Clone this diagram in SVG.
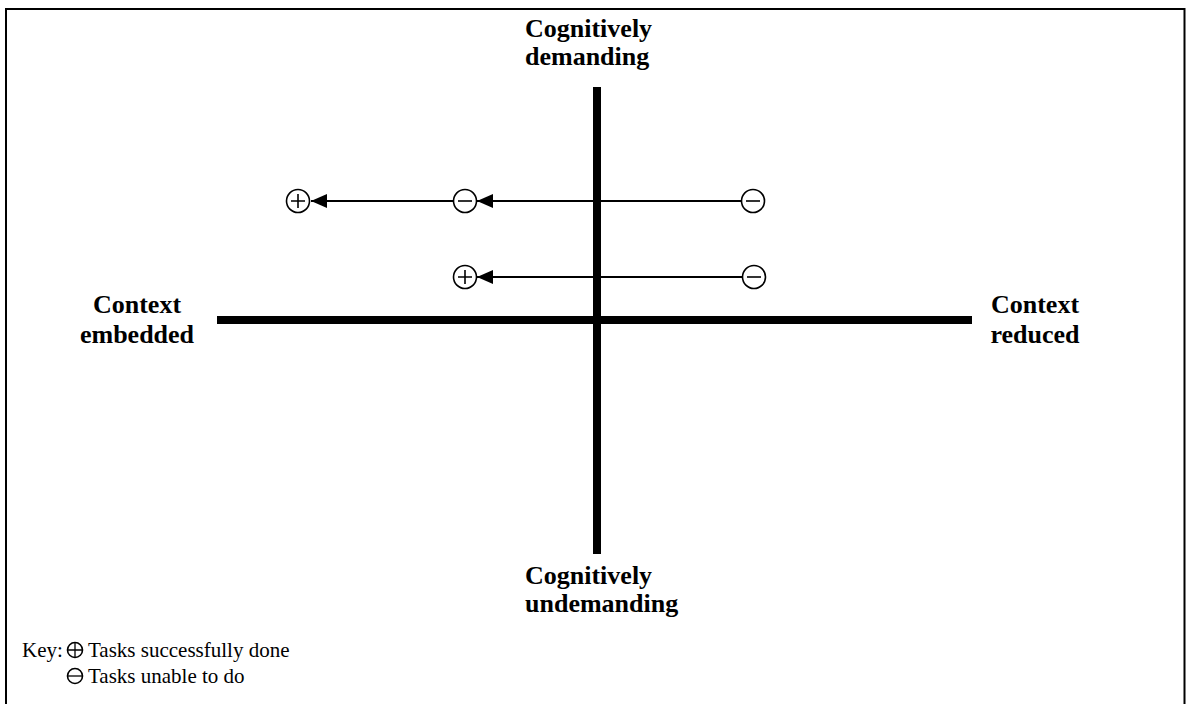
<svg xmlns="http://www.w3.org/2000/svg" width="1186" height="704" viewBox="0 0 1186 704">
<style>
.lbl{font-family:"Liberation Serif","Times New Roman",serif;font-weight:bold;font-size:26px;fill:#000}
.key{font-family:"Liberation Serif","Times New Roman",serif;font-size:21px;fill:#000}
.sym{fill:#fff;stroke:#000;stroke-width:1.6}
.axis{stroke:#000;stroke-width:8;fill:none}
.conn{stroke:#000;stroke-width:2;fill:none}
</style>
<defs>
<marker id="ah" viewBox="0 0 16 14" refX="16" refY="7" markerWidth="16" markerHeight="14" markerUnits="userSpaceOnUse" orient="auto">
<path d="M0,0 L16,7 L0,14 Z" fill="#000"/>
</marker>
<g id="plus"><circle class="sym" r="11.5"/><path d="M-7,0 H7 M0,-7 V7" stroke="#000" stroke-width="1.6"/></g>
<g id="minus"><circle class="sym" r="11.5"/><path d="M-7,0 H7" stroke="#000" stroke-width="1.6"/></g>
<g id="kplus"><circle class="sym" r="7.5" stroke-width="1.3"/><path d="M-7.5,0 H7.5 M0,-7.5 V7.5" stroke="#000" stroke-width="1.3"/></g>
<g id="kminus"><circle class="sym" r="7.5" stroke-width="1.3"/><path d="M-7.5,0 H7.5" stroke="#000" stroke-width="1.3"/></g>
</defs>
<rect width="1186" height="704" fill="#fff"/>
<path d="M6,704 V9 H1184.5 V704" fill="none" stroke="#000" stroke-width="2"/>
<g id="axes">
<line class="axis" x1="597" y1="87" x2="597" y2="554"/>
<line class="axis" x1="217" y1="320" x2="972" y2="320"/>
</g>
<g id="connectors">
<line class="conn" x1="741.5" y1="201" x2="477" y2="201" marker-end="url(#ah)"/>
<line class="conn" x1="453.5" y1="201" x2="311" y2="201" marker-end="url(#ah)"/>
<line class="conn" x1="742.5" y1="277" x2="477" y2="277" marker-end="url(#ah)"/>
</g>
<g id="node-top-plus"><use href="#plus" x="298" y="201"/></g>
<g id="node-top-minus-mid"><use href="#minus" x="465" y="201"/></g>
<g id="node-top-minus-right"><use href="#minus" x="753" y="201"/></g>
<g id="node-bot-plus"><use href="#plus" x="465" y="277"/></g>
<g id="node-bot-minus-right"><use href="#minus" x="754" y="277"/></g>
<g id="label-top"><text class="lbl" x="525" y="37">Cognitively</text><text class="lbl" x="525" y="65">demanding</text></g>
<g id="label-bottom"><text class="lbl" x="525" y="584">Cognitively</text><text class="lbl" x="525" y="612">undemanding</text></g>
<g id="label-left"><text class="lbl" x="137" y="313" text-anchor="middle">Context</text><text class="lbl" x="137" y="343" text-anchor="middle">embedded</text></g>
<g id="label-right"><text class="lbl" x="1035" y="313" text-anchor="middle">Context</text><text class="lbl" x="1035" y="343" text-anchor="middle">reduced</text></g>
<g id="key">
<text class="key" x="22" y="657">Key:</text>
<use href="#kplus" x="75" y="650"/>
<text class="key" x="88" y="657">Tasks successfully done</text>
<use href="#kminus" x="75" y="676"/>
<text class="key" x="88" y="683">Tasks unable to do</text>
</g>
</svg>
